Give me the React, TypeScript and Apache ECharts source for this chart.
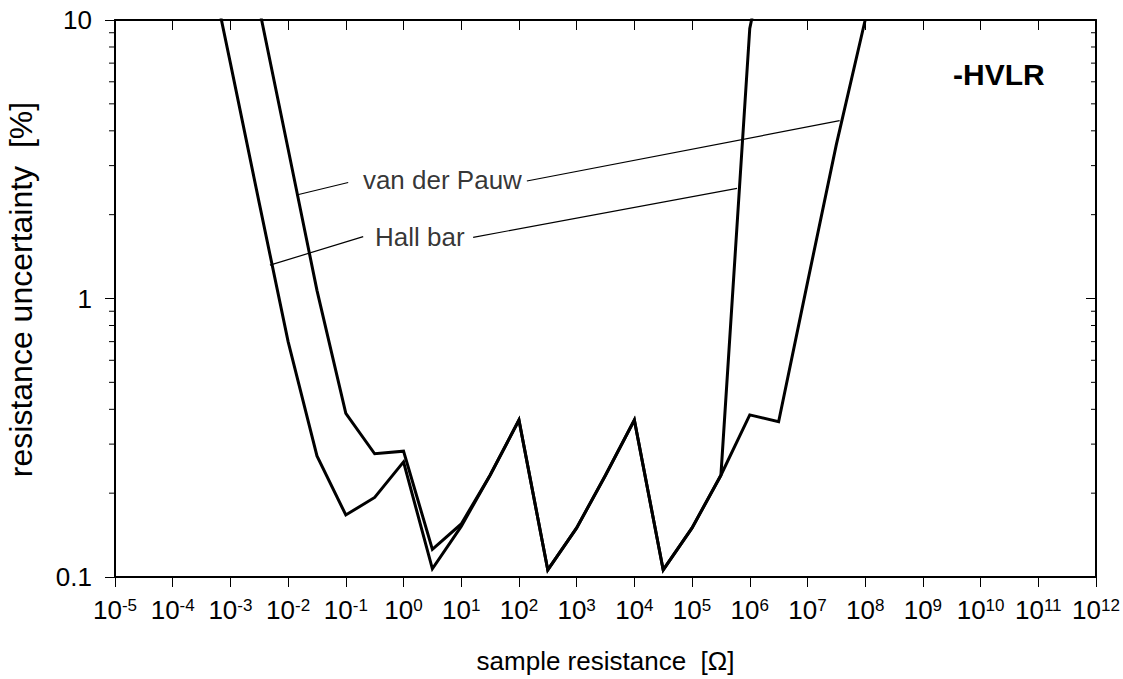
import React, { useEffect, useRef } from "react";
import * as echarts from "echarts";

const FONT = "'Liberation Sans', Arial, Helvetica, sans-serif";

const X_MIN = 1e-5;
const X_MAX = 1e12;
const Y_MIN = 0.1;
const Y_MAX = 10;

// Hall bar curve
const hallX = [3.162e-4, 1e-3, 3.162e-3, 1e-2, 3.162e-2, 1e-1, 3.162e-1, 1, 3.162, 10, 31.62, 100, 316.2, 1e3, 3162, 1e4, 31620, 1e5, 316200, 1e6, 3162000];
const hallY = [22, 7.0, 2.2, 0.7, 0.272, 0.167, 0.193, 0.259, 0.107, 0.152, 0.232, 0.366, 0.106, 0.15, 0.232, 0.366, 0.106, 0.15, 0.232, 9.33, 29];

// van der Pauw curve
const vdpX = [3.162e-3, 1e-2, 3.162e-2, 0.1, 0.3162, 1, 3.162, 10, 31.62, 100, 316.2, 1e3, 3162, 1e4, 31620, 1e5, 316200, 1e6, 3162000, 1e7, 3.162e7, 1e8];
const vdpY = [11.0, 3.44, 1.07, 0.387, 0.277, 0.283, 0.1257, 0.155, 0.232, 0.366, 0.106, 0.15, 0.232, 0.366, 0.106, 0.15, 0.232, 0.382, 0.361, 1.14, 3.57, 10.0];

// annotation leader lines (x, y pairs)
const vdpLeader1 = [[0.01403, 2.353], [0.1099, 2.61]];
const vdpLeader2 = [[137.1, 2.642], [3.61e7, 4.35]];
const hallLeader1 = [[0.004842, 1.318], [0.2, 1.667]];
const hallLeader2 = [[16.09, 1.658], [6.01e5, 2.487]];

// annotation labels
const labels = [
  [4.71, 2.665, "van der Pauw"],
  [1.92, 1.664, "Hall bar"],
];

// minor ticks on the y axis
const minorY = [0.2, 0.3, 0.4, 0.5, 0.6, 0.7, 0.8, 0.9, 2, 3, 4, 5, 6, 7, 8, 9];

const xTitle = "sample resistance  [Ω]";
const yTitle = "resistance uncertainty  [%]";
const badge = "-HVLR";

const zip = (xs: number[], ys: number[]) => xs.map((x, i) => [x, ys[i]]);

export default function App() {
  const ref = useRef<HTMLDivElement>(null);
  useEffect(() => {
    if (!ref.current) return;
    const chart = echarts.init(ref.current, undefined, { renderer: "svg" });
    const black = "#000";
    const leader = (data: number[][]) => ({
      type: "line",
      data,
      showSymbol: false,
      symbol: "none",
      silent: true,
      clip: false,
      lineStyle: { color: black, width: 1.2 },
      z: 3,
    });
    const xCommon = {
      type: "log",
      logBase: 10,
      min: X_MIN,
      max: X_MAX,
      splitNumber: 17,
      interval: 1,
      splitLine: { show: false },
      axisLine: { show: true, lineStyle: { color: black, width: 2 } },
    };
    const yCommon = {
      type: "log",
      logBase: 10,
      min: Y_MIN,
      max: Y_MAX,
      splitNumber: 2,
      interval: 1,
      splitLine: { show: false },
      axisLine: { show: true, lineStyle: { color: black, width: 2 } },
    };
    const option: any = {
      animation: false,
      backgroundColor: "#fff",
      grid: { left: 115, top: 20, right: 27, bottom: 102, containLabel: false, outerBoundsMode: "none" },
      xAxis: [
        {
          ...xCommon,
          position: "bottom",
          axisTick: { show: true, inside: false, length: 10, lineStyle: { color: black, width: 1 } },
          axisLabel: {
            show: true,
            interval: 0,
            margin: 20,
            formatter: (v: number) => `{b|10}{s|${Math.round(Math.log10(v))}}`,
            rich: {
              b: { fontSize: 26, fontFamily: FONT, color: black, lineHeight: 27, verticalAlign: "top" },
              s: { fontSize: 17, fontFamily: FONT, color: black, lineHeight: 17, verticalAlign: "top" },
            },
          },
          name: xTitle,
          nameLocation: "middle",
          nameGap: 71,
          nameTextStyle: { fontSize: 26, fontFamily: FONT, color: black },
        },
        {
          ...xCommon,
          position: "top",
          axisTick: { show: true, inside: true, length: 10, lineStyle: { color: black, width: 1 } },
          axisLabel: { show: false },
        },
      ],
      yAxis: [
        {
          ...yCommon,
          position: "left",
          axisTick: { show: true, inside: false, length: 10, lineStyle: { color: black, width: 1 } },
          axisLabel: {
            show: true,
            margin: 23,
            fontSize: 26,
            fontFamily: FONT,
            color: black,
            formatter: (v: number) => String(Number(v.toPrecision(3))),
          },
          name: yTitle,
          nameLocation: "middle",
          nameGap: 78,
          nameTextStyle: { fontSize: 32, fontFamily: FONT, color: black, padding: [0, 0, 0, 18] },
        },
        {
          ...yCommon,
          position: "right",
          axisTick: { show: true, inside: true, length: 10, lineStyle: { color: black, width: 1 } },
          axisLabel: { show: false },
        },
      ],
      graphic: [
        {
          type: "text",
          left: 953,
          top: 59,
          style: { text: badge, fontSize: 30, fontWeight: "bold", fontFamily: FONT, fill: black },
        },
      ],
      series: [
        {
          type: "custom",
          silent: true,
          clip: false,
          data: minorY.map((v) => [X_MIN, v]),
          renderItem: (params: any, api: any) => {
            const p = api.coord([X_MIN, api.value(1)]);
            const q = api.coord([X_MAX, api.value(1)]);
            return {
              type: "group",
              children: [
                { type: "line", shape: { x1: p[0] - 6, y1: p[1], x2: p[0], y2: p[1] }, style: { stroke: black, lineWidth: 1 } },
                { type: "line", shape: { x1: q[0] - 5, y1: q[1], x2: q[0], y2: q[1] }, style: { stroke: black, lineWidth: 1 } },
              ],
            };
          },
        },
        {
          name: "Hall bar",
          type: "line",
          data: zip(hallX, hallY),
          showSymbol: false,
          symbol: "none",
          clip: true,
          lineStyle: { color: black, width: 3, join: "miter", miterLimit: 4 },
          z: 4,
        },
        {
          name: "van der Pauw",
          type: "line",
          data: zip(vdpX, vdpY),
          showSymbol: false,
          symbol: "none",
          clip: true,
          lineStyle: { color: black, width: 3, join: "miter", miterLimit: 4 },
          z: 4,
        },
        leader(vdpLeader1),
        leader(vdpLeader2),
        leader(hallLeader1),
        leader(hallLeader2),
        {
          type: "scatter",
          data: labels,
          symbolSize: 1,
          silent: true,
          itemStyle: { color: "transparent" },
          label: {
            show: true,
            position: "inside",
            formatter: (p: any) => p.data[2],
            fontSize: 26,
            fontFamily: FONT,
            color: black,
          },
          z: 5,
        },
      ],
    };
    chart.setOption(option);
    return () => chart.dispose();
  }, []);
  return (
    <div
      ref={ref}
      style={{ position: "absolute", left: 0, top: 0, width: 1123, height: 679, background: "#fff" }}
    />
  );
}
